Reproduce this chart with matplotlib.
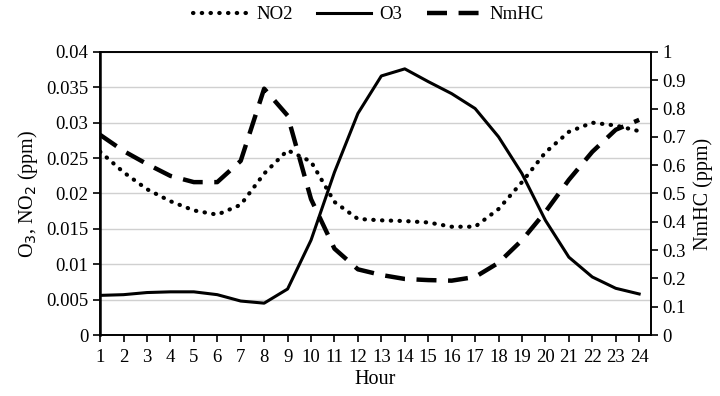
import numpy as np
import matplotlib
matplotlib.use("Agg")
import matplotlib.pyplot as plt

plt.rcParams['font.family'] = ['Liberation Serif', 'DejaVu Serif']

hours = np.arange(1, 25)
no2 = [0.0259, 0.0230, 0.0206, 0.0189, 0.0176, 0.0170, 0.0184, 0.0228, 0.0261, 0.0245,
       0.0188, 0.0164, 0.0162, 0.0161, 0.0159, 0.0153, 0.0153, 0.0178, 0.0216, 0.0258,
       0.0287, 0.0300, 0.0296, 0.0288]
o3 = [0.0056, 0.0057, 0.0060, 0.0061, 0.0061, 0.0057, 0.0048, 0.0045, 0.0065, 0.0134,
      0.0230, 0.0313, 0.0366, 0.0376, 0.0358, 0.0341, 0.0320, 0.0280, 0.0228, 0.0162,
      0.0110, 0.0082, 0.0066, 0.0058]
nmhc = [0.707, 0.650, 0.604, 0.562, 0.540, 0.540, 0.615, 0.870, 0.775, 0.480,
        0.305, 0.232, 0.212, 0.198, 0.194, 0.192, 0.205, 0.255, 0.335, 0.435,
        0.548, 0.647, 0.725, 0.760]

fig = plt.figure(figsize=(7.2, 3.96), dpi=100)
ax = fig.add_axes([0.139, 0.154, 0.765, 0.715])
ax2 = ax.twinx()

l1, = ax.plot(hours, no2, color='black', lw=3.0, linestyle=(0, (0.1, 2.0)),
              dash_capstyle='round', solid_capstyle='round', label='NO2')
l2, = ax.plot(hours, o3, color='black', lw=2.2, label='O3')
l3, = ax2.plot(hours, nmhc, color='black', lw=3.2, linestyle=(0, (4.5, 2.6)), label='NmHC')

ax.set_xlim(1, 24.5)
ax.set_ylim(0, 0.04)
ax2.set_ylim(0, 1)
ax.set_xticks(hours)
ax.set_yticks(np.arange(0, 0.0401, 0.005))
ax.set_yticklabels(['0', '0.005', '0.01', '0.015', '0.02', '0.025', '0.03', '0.035', '0.04'])
ax2.set_yticks(np.arange(0, 1.01, 0.1))
ax2.set_yticklabels(['0', '0.1', '0.2', '0.3', '0.4', '0.5', '0.6', '0.7', '0.8', '0.9', '1'])

ax.grid(axis='y', color='#d0d0d0', lw=1.0)
ax.set_axisbelow(True)
ax.tick_params(axis='both', labelsize=13.5, direction='out', length=5, width=1.2)
ax2.tick_params(axis='y', labelsize=13.5, direction='out', length=5, width=1.2)
ax.tick_params(axis='x', pad=5)
for a in (ax, ax2):
    for s in a.spines.values():
        s.set_linewidth(1.2)
ax.spines['left'].set_linewidth(1.8)

ax.set_xlabel('Hour', fontsize=14.5, labelpad=3)
ax.set_ylabel('O$_3$, NO$_2$ (ppm)', fontsize=14.5, labelpad=4)
ax2.set_ylabel('NmHC (ppm)', fontsize=14.5, labelpad=5)

fig.legend(handles=[l1, l2, l3], loc='center', bbox_to_anchor=(0.512, 0.963), ncol=3,
           frameon=False, fontsize=13.5, handlelength=2.9, columnspacing=1.3, handletextpad=0.45)

fig.savefig('out.png', dpi=100)
